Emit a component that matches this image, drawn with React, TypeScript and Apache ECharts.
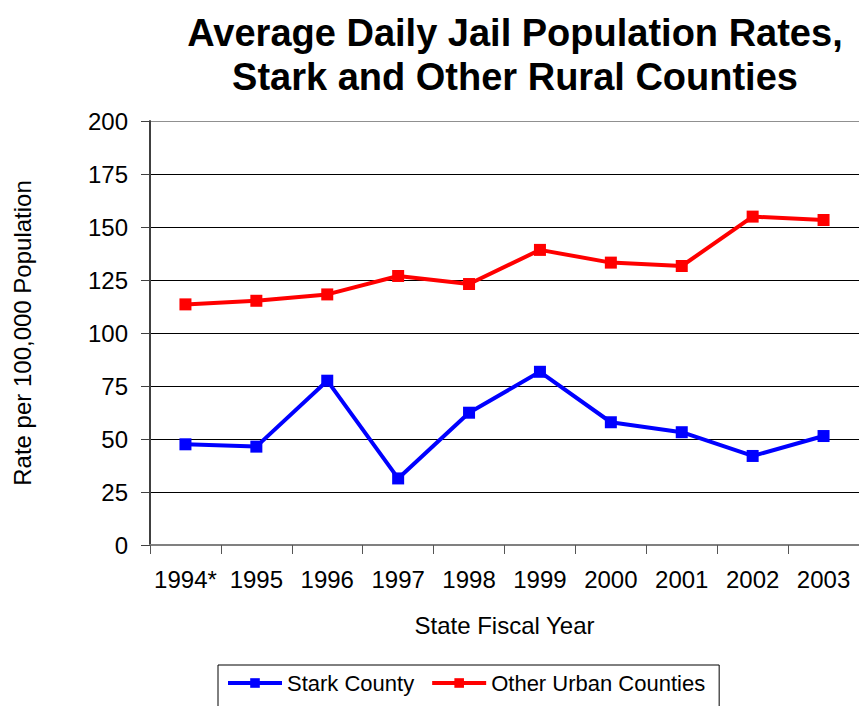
import React, { useEffect, useRef } from "react";
import * as echarts from "echarts";

const years = ["1994*", "1995", "1996", "1997", "1998", "1999", "2000", "2001", "2002", "2003"];
const starkCounty = [47.5, 46.4, 77.5, 31.4, 62.4, 81.7, 57.9, 53.2, 42.0, 51.4];
const otherUrban = [113.5, 115.2, 118.2, 126.9, 123.1, 139.2, 133.2, 131.6, 154.9, 153.3];

export default function App() {
  const ref = useRef<HTMLDivElement>(null);
  useEffect(() => {
    if (!ref.current) return;
    const chart = echarts.init(ref.current, null, { renderer: "svg" });
    const font = "'Liberation Sans', Arial, sans-serif";
    chart.setOption({
      animation: false,
      textStyle: { fontFamily: font },
      title: {
        text: "Average Daily Jail Population Rates,\nStark and Other Rural Counties",
        left: 510,
        textAlign: "center",
        top: 6,
        textStyle: { fontSize: 38, fontWeight: "bold", color: "#000", lineHeight: 44, fontFamily: font },
      },
      grid: { left: 150, right: -1, top: 121, bottom: 161, containLabel: false },
      legend: {
        top: 665,
        left: 218,
        itemWidth: 54,
        itemHeight: 12,
        itemGap: 16,
        padding: [7, 14, 14, 8],
        borderColor: "#000",
        borderWidth: 1,
        lineStyle: { width: 4 },
        textStyle: { fontSize: 22, color: "#000", fontFamily: font },
        data: ["Stark County", "Other Urban Counties"],
      },
      xAxis: {
        type: "category",
        data: years,
        boundaryGap: true,
        name: "State Fiscal Year",
        nameLocation: "middle",
        nameGap: 68,
        nameTextStyle: { fontSize: 24, color: "#000", fontFamily: font },
        axisLine: { lineStyle: { color: "#808080", width: 2 } },
        axisTick: { show: true, interval: 0, length: 9, lineStyle: { color: "#555" }, alignWithLabel: false },
        axisLabel: { interval: 0, fontSize: 24, color: "#000", margin: 22, fontFamily: font },
        splitLine: { show: false },
      },
      yAxis: {
        type: "value",
        min: 0,
        max: 200,
        interval: 25,
        name: "Rate per 100,000 Population",
        nameLocation: "middle",
        nameGap: 116,
        nameTextStyle: { fontSize: 24, color: "#000", fontFamily: font },
        axisLine: { show: true, lineStyle: { color: "#404040", width: 2 } },
        axisTick: { show: true, length: 9, lineStyle: { color: "#404040" } },
        axisLabel: { fontSize: 24, color: "#000", margin: 22, fontFamily: font },
        splitLine: {
          show: true,
          lineStyle: {
            color: ["#808080", "#000", "#000", "#000", "#000", "#000", "#000", "#000", "#909090"],
            width: 1,
          },
        },
      },
      series: [
        {
          name: "Stark County",
          type: "line",
          data: starkCounty,
          symbol: "rect",
          symbolSize: 12,
          color: "#0000ff",
          lineStyle: { width: 4, color: "#0000ff" },
          itemStyle: { color: "#0000ff" },
        },
        {
          name: "Other Urban Counties",
          type: "line",
          data: otherUrban,
          symbol: "rect",
          symbolSize: 12,
          color: "#ff0000",
          lineStyle: { width: 4, color: "#ff0000" },
          itemStyle: { color: "#ff0000" },
        },
      ],
    });
    return () => chart.dispose();
  }, []);
  return <div ref={ref} style={{ width: 859, height: 706, position: "absolute", left: 0, top: 0 }} />;
}
